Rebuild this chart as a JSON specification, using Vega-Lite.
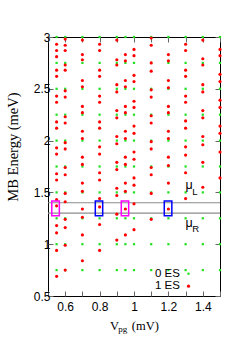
{
  "$schema": "https://vega.github.io/schema/vega-lite/v6.json",
  "width": 172,
  "height": 259,
  "autosize": {"type": "none"},
  "padding": {"left": 48, "top": 37, "right": 29, "bottom": 53},
  "background": "white",
  "config": {
    "view": {"stroke": "black", "strokeWidth": 1},
    "axis": {"grid": false, "domain": false, "tickColor": "#666666", "tickWidth": 1, "labelColor": "black", "labelFont": "Liberation Sans", "labelFontSize": 12}
  },
  "datasets": {
    "green": [
      {"v":0.55,"e":0.75},{"v":0.55,"e":1.0},{"v":0.55,"e":1.25},{"v":0.55,"e":1.5},{"v":0.55,"e":1.75},{"v":0.55,"e":2.0},{"v":0.55,"e":2.25},{"v":0.55,"e":2.5},{"v":0.55,"e":2.75},{"v":0.55,"e":3.0},
      {"v":0.6,"e":0.75},{"v":0.6,"e":1.0},{"v":0.6,"e":1.25},{"v":0.6,"e":1.5},{"v":0.6,"e":1.75},{"v":0.6,"e":2.0},{"v":0.6,"e":2.25},{"v":0.6,"e":2.5},{"v":0.6,"e":2.75},{"v":0.6,"e":3.0},
      {"v":0.7,"e":0.75},{"v":0.7,"e":1.0},{"v":0.7,"e":1.25},{"v":0.7,"e":1.5},{"v":0.7,"e":1.75},{"v":0.7,"e":2.0},{"v":0.7,"e":2.25},{"v":0.7,"e":2.5},{"v":0.7,"e":2.75},{"v":0.7,"e":3.0},
      {"v":0.8,"e":0.75},{"v":0.8,"e":1.0},{"v":0.8,"e":1.25},{"v":0.8,"e":1.5},{"v":0.8,"e":1.75},{"v":0.8,"e":2.0},{"v":0.8,"e":2.25},{"v":0.8,"e":2.5},{"v":0.8,"e":2.75},{"v":0.8,"e":3.0},
      {"v":0.9,"e":0.75},{"v":0.9,"e":1.0},{"v":0.9,"e":1.25},{"v":0.9,"e":1.5},{"v":0.9,"e":1.75},{"v":0.9,"e":2.0},{"v":0.9,"e":2.25},{"v":0.9,"e":2.5},{"v":0.9,"e":2.75},{"v":0.9,"e":3.0},
      {"v":0.95,"e":0.75},{"v":0.95,"e":1.0},{"v":0.95,"e":1.25},{"v":0.95,"e":1.5},{"v":0.95,"e":1.75},{"v":0.95,"e":2.0},{"v":0.95,"e":2.25},{"v":0.95,"e":2.5},{"v":0.95,"e":2.75},{"v":0.95,"e":3.0},
      {"v":1.0,"e":0.75},{"v":1.0,"e":1.0},{"v":1.0,"e":1.25},{"v":1.0,"e":1.5},{"v":1.0,"e":1.75},{"v":1.0,"e":2.0},{"v":1.0,"e":2.25},{"v":1.0,"e":2.5},{"v":1.0,"e":2.75},{"v":1.0,"e":3.0},
      {"v":1.1,"e":0.75},{"v":1.1,"e":1.0},{"v":1.1,"e":1.25},{"v":1.1,"e":1.5},{"v":1.1,"e":1.75},{"v":1.1,"e":2.0},{"v":1.1,"e":2.25},{"v":1.1,"e":2.5},{"v":1.1,"e":2.75},{"v":1.1,"e":3.0},
      {"v":1.2,"e":0.75},{"v":1.2,"e":1.0},{"v":1.2,"e":1.25},{"v":1.2,"e":1.5},{"v":1.2,"e":1.75},{"v":1.2,"e":2.0},{"v":1.2,"e":2.25},{"v":1.2,"e":2.5},{"v":1.2,"e":2.75},{"v":1.2,"e":3.0},
      {"v":1.3,"e":0.75},{"v":1.3,"e":1.0},{"v":1.3,"e":1.25},{"v":1.3,"e":1.5},{"v":1.3,"e":1.75},{"v":1.3,"e":2.0},{"v":1.3,"e":2.25},{"v":1.3,"e":2.5},{"v":1.3,"e":2.75},{"v":1.3,"e":3.0},
      {"v":1.4,"e":0.75},{"v":1.4,"e":1.0},{"v":1.4,"e":1.25},{"v":1.4,"e":1.5},{"v":1.4,"e":1.75},{"v":1.4,"e":2.0},{"v":1.4,"e":2.25},{"v":1.4,"e":2.5},{"v":1.4,"e":2.75},{"v":1.4,"e":3.0},
      {"v":1.5,"e":0.75},{"v":1.5,"e":1.0},{"v":1.5,"e":1.25},{"v":1.5,"e":1.5},{"v":1.5,"e":1.75},{"v":1.5,"e":2.0},{"v":1.5,"e":2.25},{"v":1.5,"e":2.5},{"v":1.5,"e":2.75},{"v":1.5,"e":3.0}
    ],
    "red": [
      {"v":0.55,"e":0.69},{"v":0.55,"e":0.94},{"v":0.55,"e":1.11},{"v":0.55,"e":1.18},{"v":0.55,"e":1.37},{"v":0.55,"e":1.43},{"v":0.55,"e":1.62},{"v":0.55,"e":1.68},{"v":0.55,"e":1.87},{"v":0.55,"e":1.93},{"v":0.55,"e":2.12},{"v":0.55,"e":2.18},{"v":0.55,"e":2.37},{"v":0.55,"e":2.43},{"v":0.55,"e":2.62},{"v":0.55,"e":2.68},{"v":0.55,"e":2.81},{"v":0.55,"e":2.87},{"v":0.55,"e":2.93},
      {"v":0.6,"e":0.75},{"v":0.6,"e":0.99},{"v":0.6,"e":1.16},{"v":0.6,"e":1.24},{"v":0.6,"e":1.41},{"v":0.6,"e":1.49},{"v":0.6,"e":1.67},{"v":0.6,"e":1.74},{"v":0.6,"e":1.92},{"v":0.6,"e":1.98},{"v":0.6,"e":2.17},{"v":0.6,"e":2.23},{"v":0.6,"e":2.42},{"v":0.6,"e":2.48},{"v":0.6,"e":2.68},{"v":0.6,"e":2.73},{"v":0.6,"e":2.87},{"v":0.6,"e":2.92},{"v":0.6,"e":2.98},
      {"v":0.7,"e":0.84},{"v":0.7,"e":1.09},{"v":0.7,"e":1.26},{"v":0.7,"e":1.34},{"v":0.7,"e":1.51},{"v":0.7,"e":1.59},{"v":0.7,"e":1.77},{"v":0.7,"e":1.84},{"v":0.7,"e":2.02},{"v":0.7,"e":2.09},{"v":0.7,"e":2.27},{"v":0.7,"e":2.33},{"v":0.7,"e":2.52},{"v":0.7,"e":2.58},{"v":0.7,"e":2.78},{"v":0.7,"e":2.83},{"v":0.7,"e":2.97},
      {"v":0.8,"e":0.94},{"v":0.8,"e":1.19},{"v":0.8,"e":1.36},{"v":0.8,"e":1.44},{"v":0.8,"e":1.62},{"v":0.8,"e":1.69},{"v":0.8,"e":1.87},{"v":0.8,"e":1.94},{"v":0.8,"e":2.12},{"v":0.8,"e":2.18},{"v":0.8,"e":2.37},{"v":0.8,"e":2.43},{"v":0.8,"e":2.62},{"v":0.8,"e":2.68},{"v":0.8,"e":2.87},{"v":0.8,"e":2.93},
      {"v":0.9,"e":1.04},{"v":0.9,"e":1.29},{"v":0.9,"e":1.47},{"v":0.9,"e":1.54},{"v":0.9,"e":1.72},{"v":0.9,"e":1.79},{"v":0.9,"e":1.97},{"v":0.9,"e":2.04},{"v":0.9,"e":2.22},{"v":0.9,"e":2.29},{"v":0.9,"e":2.47},{"v":0.9,"e":2.54},{"v":0.9,"e":2.73},{"v":0.9,"e":2.78},{"v":0.9,"e":2.97},
      {"v":0.95,"e":1.09},{"v":0.95,"e":1.34},{"v":0.95,"e":1.51},{"v":0.95,"e":1.59},{"v":0.95,"e":1.77},{"v":0.95,"e":1.84},{"v":0.95,"e":2.02},{"v":0.95,"e":2.09},{"v":0.95,"e":2.27},{"v":0.95,"e":2.33},{"v":0.95,"e":2.52},{"v":0.95,"e":2.58},{"v":0.95,"e":2.77},{"v":0.95,"e":2.83},
      {"v":1.0,"e":1.14},{"v":1.0,"e":1.39},{"v":1.0,"e":1.57},{"v":1.0,"e":1.64},{"v":1.0,"e":1.82},{"v":1.0,"e":1.89},{"v":1.0,"e":2.07},{"v":1.0,"e":2.14},{"v":1.0,"e":2.32},{"v":1.0,"e":2.38},{"v":1.0,"e":2.57},{"v":1.0,"e":2.63},{"v":1.0,"e":2.82},{"v":1.0,"e":2.88},
      {"v":1.1,"e":1.24},{"v":1.1,"e":1.49},{"v":1.1,"e":1.67},{"v":1.1,"e":1.74},{"v":1.1,"e":1.92},{"v":1.1,"e":1.99},{"v":1.1,"e":2.17},{"v":1.1,"e":2.24},{"v":1.1,"e":2.42},{"v":1.1,"e":2.49},{"v":1.1,"e":2.67},{"v":1.1,"e":2.75},{"v":1.1,"e":2.92},{"v":1.1,"e":2.99},
      {"v":1.2,"e":1.34},{"v":1.2,"e":1.59},{"v":1.2,"e":1.76},{"v":1.2,"e":1.84},{"v":1.2,"e":2.02},{"v":1.2,"e":2.09},{"v":1.2,"e":2.27},{"v":1.2,"e":2.33},{"v":1.2,"e":2.51},{"v":1.2,"e":2.58},{"v":1.2,"e":2.77},{"v":1.2,"e":2.83},
      {"v":1.3,"e":1.44},{"v":1.3,"e":1.69},{"v":1.3,"e":1.86},{"v":1.3,"e":1.94},{"v":1.3,"e":2.12},{"v":1.3,"e":2.19},{"v":1.3,"e":2.37},{"v":1.3,"e":2.43},{"v":1.3,"e":2.62},{"v":1.3,"e":2.68},{"v":1.3,"e":2.87},{"v":1.3,"e":2.93},
      {"v":1.4,"e":1.55},{"v":1.4,"e":1.79},{"v":1.4,"e":1.96},{"v":1.4,"e":2.04},{"v":1.4,"e":2.22},{"v":1.4,"e":2.29},{"v":1.4,"e":2.47},{"v":1.4,"e":2.54},{"v":1.4,"e":2.73},{"v":1.4,"e":2.79},{"v":1.4,"e":2.97},
      {"v":1.5,"e":1.64},{"v":1.5,"e":1.89},{"v":1.5,"e":2.07},{"v":1.5,"e":2.14},{"v":1.5,"e":2.32},{"v":1.5,"e":2.39},{"v":1.5,"e":2.57},{"v":1.5,"e":2.64},{"v":1.5,"e":2.82},{"v":1.5,"e":2.88}
    ],
    "lines": [{"e": 1.4}, {"e": 1.3}],
    "boxes": [
      {"x1":0.522,"x2":0.566,"y1":1.275,"y2":1.417,"c":"m"},
      {"x1":0.775,"x2":0.818,"y1":1.275,"y2":1.417,"c":"b"},
      {"x1":0.926,"x2":0.969,"y1":1.275,"y2":1.417,"c":"m"},
      {"x1":1.176,"x2":1.220,"y1":1.275,"y2":1.417,"c":"b"}
    ],
    "legtext": [{"t":"0 ES","x":1.267,"y":0.715},{"t":"1 ES","x":1.267,"y":0.595}],
    "leggreen": [{"x":1.317,"y":0.715}],
    "legred": [{"x":1.317,"y":0.595}],
    "mu": [{"t":"μ","x":1.30,"y":1.528},{"t":"μ","x":1.30,"y":1.168}],
    "musub": [{"t":"L","x":1.339,"y":1.475},{"t":"R","x":1.339,"y":1.121}],
    "xtitle": [{"t":"V","x":0.86,"y":0.172},{"t":"(mV)","x":0.987,"y":0.172}],
    "xsub": [{"t":"pg","x":0.909,"y":0.157}],
    "ytitle": [{"t":"MB Energy (meV)","x":0.301,"y":1.938}]
  },
  "resolve": {"axis": {"x": "independent", "y": "independent"}},
  "layer": [
    {
      "data": {"name": "lines"},
      "mark": {"type": "rule", "color": "#8c8c8c", "strokeWidth": 1.2},
      "encoding": {"y": {"field": "e", "type": "quantitative", "scale": {"domain": [0.5, 3], "nice": false, "zero": false}, "axis": null}}
    },
    {
      "data": {"name": "green"},
      "mark": {"type": "point", "shape": "square", "filled": true, "size": 5, "color": "#22e022", "opacity": 1},
      "encoding": {
        "x": {"field": "v", "type": "quantitative", "scale": {"domain": [0.5, 1.5], "nice": false, "zero": false},
          "axis": {"orient": "bottom", "values": [0.5,0.6,0.7,0.8,0.9,1.0,1.1,1.2,1.3,1.4,1.5], "format": "~g", "tickSize": -5, "labelPadding": 10,
            "labelExpr": "indexof(['0.6','0.8','1','1.2','1.4'], datum.label) >= 0 ? datum.label : ''", "title": null}},
        "y": {"field": "e", "type": "quantitative", "scale": {"domain": [0.5, 3], "nice": false, "zero": false},
          "axis": {"orient": "left", "values": [0.5,1,1.5,2,2.5,3], "format": "~g", "tickSize": -5, "labelPadding": 3, "title": null}}
      }
    },
    {
      "data": {"name": "red"},
      "mark": {"type": "point", "shape": "circle", "filled": true, "size": 10, "color": "#ff0000", "opacity": 1},
      "encoding": {
        "x": {"field": "v", "type": "quantitative", "axis": null},
        "y": {"field": "e", "type": "quantitative", "axis": null}
      }
    },
    {
      "data": {"name": "boxes"},
      "mark": {"type": "rect", "filled": false, "strokeWidth": 1.5},
      "encoding": {
        "x": {"field": "x1", "type": "quantitative",
          "axis": {"orient": "top", "values": [0.5,0.6,0.7,0.8,0.9,1.0,1.1,1.2,1.3,1.4,1.5], "labels": false, "tickSize": -5, "title": null}},
        "x2": {"field": "x2"},
        "y": {"field": "y1", "type": "quantitative",
          "axis": {"orient": "right", "values": [0.5,1,1.5,2,2.5,3], "labels": false, "tickSize": -5, "title": null}},
        "y2": {"field": "y2"},
        "stroke": {"field": "c", "type": "nominal", "scale": {"domain": ["m", "b"], "range": ["#ff00ff", "#0000ff"]}, "legend": null}
      }
    },
    {
      "data": {"name": "legtext"},
      "mark": {"type": "text", "align": "right", "baseline": "middle", "font": "Liberation Sans", "fontSize": 11.5, "color": "black"},
      "encoding": {"text": {"field": "t"}, "x": {"field": "x", "type": "quantitative", "axis": null}, "y": {"field": "y", "type": "quantitative", "axis": null}}
    },
    {
      "data": {"name": "leggreen"},
      "mark": {"type": "point", "shape": "square", "filled": true, "size": 5, "color": "#22e022", "opacity": 1},
      "encoding": {"x": {"field": "x", "type": "quantitative", "axis": null}, "y": {"field": "y", "type": "quantitative", "axis": null}}
    },
    {
      "data": {"name": "legred"},
      "mark": {"type": "point", "shape": "circle", "filled": true, "size": 10, "color": "#ff0000", "opacity": 1},
      "encoding": {"x": {"field": "x", "type": "quantitative", "axis": null}, "y": {"field": "y", "type": "quantitative", "axis": null}}
    },
    {
      "data": {"name": "mu"},
      "mark": {"type": "text", "align": "left", "baseline": "alphabetic", "font": "Liberation Sans", "fontSize": 12.5, "color": "black"},
      "encoding": {"text": {"field": "t"}, "x": {"field": "x", "type": "quantitative", "axis": null}, "y": {"field": "y", "type": "quantitative", "axis": null}}
    },
    {
      "data": {"name": "musub"},
      "mark": {"type": "text", "align": "left", "baseline": "alphabetic", "font": "Liberation Sans", "fontSize": 9.5, "color": "black"},
      "encoding": {"text": {"field": "t"}, "x": {"field": "x", "type": "quantitative", "axis": null}, "y": {"field": "y", "type": "quantitative", "axis": null}}
    },
    {
      "data": {"name": "xtitle"},
      "mark": {"type": "text", "align": "left", "baseline": "alphabetic", "font": "Liberation Serif", "fontSize": 12.5, "color": "black"},
      "encoding": {"text": {"field": "t"}, "x": {"field": "x", "type": "quantitative", "axis": null}, "y": {"field": "y", "type": "quantitative", "axis": null}}
    },
    {
      "data": {"name": "xsub"},
      "mark": {"type": "text", "align": "left", "baseline": "alphabetic", "font": "Liberation Serif", "fontSize": 9, "color": "black"},
      "encoding": {"text": {"field": "t"}, "x": {"field": "x", "type": "quantitative", "axis": null}, "y": {"field": "y", "type": "quantitative", "axis": null}}
    },
    {
      "data": {"name": "ytitle"},
      "mark": {"type": "text", "align": "center", "baseline": "middle", "angle": 270, "font": "Liberation Serif", "fontSize": 14.5, "color": "black"},
      "encoding": {"text": {"field": "t"}, "x": {"field": "x", "type": "quantitative", "axis": null}, "y": {"field": "y", "type": "quantitative", "axis": null}}
    }
  ]
}
